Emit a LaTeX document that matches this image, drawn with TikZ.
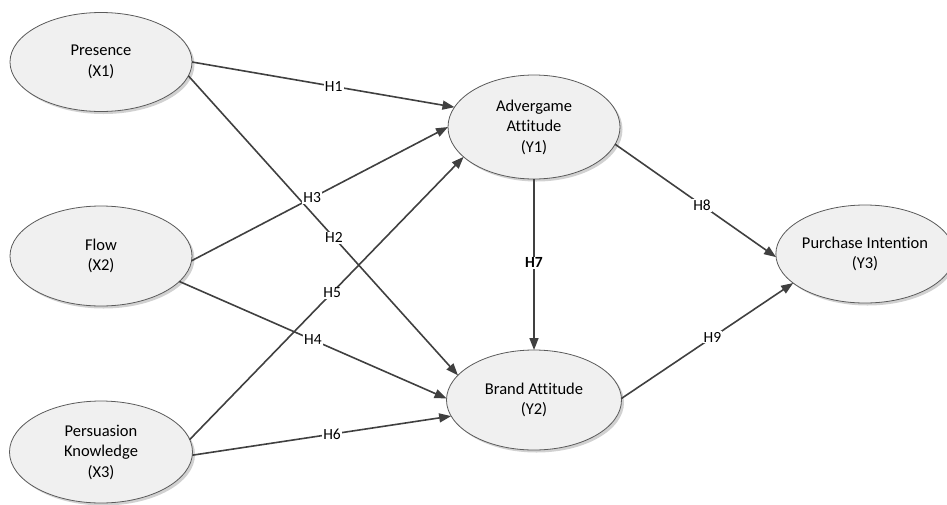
\documentclass[tikz,border=0pt]{standalone}
\usepackage{fontspec}
\setmainfont{Carlito}[Ligatures=NoCommon]
\usetikzlibrary{arrows.meta,shapes.geometric,shadows}
\definecolor{linegray}{HTML}{404040}
\definecolor{rimgray}{HTML}{5A5A5A}
\definecolor{ellfill}{HTML}{F0F0F0}
\begin{document}
\begin{tikzpicture}[x=1pt,y=-1pt,
  construct/.style={ellipse, draw=rimgray, line width=0.8pt, fill=ellfill,
    inner sep=0pt, outer sep=0pt, align=center,
    font=\fontsize{16.5}{20.5}\selectfont,
    drop shadow={shadow xshift=2.5pt, shadow yshift=-2.5pt, opacity=0.18, fill=black}},
  path/.style={draw=linegray, line width=1.6pt,
    -{Triangle[length=12pt,width=9pt]}},
  hyp/.style={fill=white, inner sep=1pt, font=\fontsize{15.5}{18}\selectfont, text=black}
]
\useasboundingbox (0,0) rectangle (947,504);

\node[construct, minimum width=182pt, minimum height=99pt] (X1) at (101,62) {Presence\\(X1)};
\node[construct, minimum width=182pt, minimum height=100pt] (X2) at (101,256) {Flow\\(X2)};
\node[construct, minimum width=183pt, minimum height=102pt] (X3) at (101,452) {Persuasion\\Knowledge\\(X3)};
\node[construct, minimum width=172pt, minimum height=104pt] (Y1) at (534,127) {Advergame\\Attitude\\(Y1)};
\node[construct, minimum width=175pt, minimum height=100pt] (Y2) at (534,400) {Brand Attitude\\(Y2)};
\node[construct, minimum width=164pt, minimum height=98pt] (Y3) at (865,254) {Purchase Intention\\(Y3)};

\draw[path] (X1.0) -- node[hyp, pos=0.54] (h1) {H1} (Y1.166);
\draw[path] (X1.-9) -- node[hyp, pos=0.54] (h2) {H2} (Y2.162);
\draw[path] (X2.-3) -- node[hyp, pos=0.47] (h3) {H3} (Y1.180);
\draw[path] (X2.-18) -- node[hyp, pos=0.5] (h4) {H4} (Y2.179);
\draw[path] (X3.8) -- node[hyp, pos=0.52] (h5) {H5} (Y1.203);
\draw[path] (X3.-2) -- node[hyp, pos=0.54] (h6) {H6} (Y2.191);
\draw[path] (Y1.south) -- node[hyp, pos=0.49, font=\fontsize{15.5}{18}\selectfont\bfseries] (h7) {H7} (Y2.north);
\draw[path] (Y1.-12.5) -- node[hyp, pos=0.54] (h8) {H8} (Y3.182);
\draw[path] (Y2.1) -- node[hyp, pos=0.53] (h9) {H9} (Y3.202);
\end{tikzpicture}
\end{document}
